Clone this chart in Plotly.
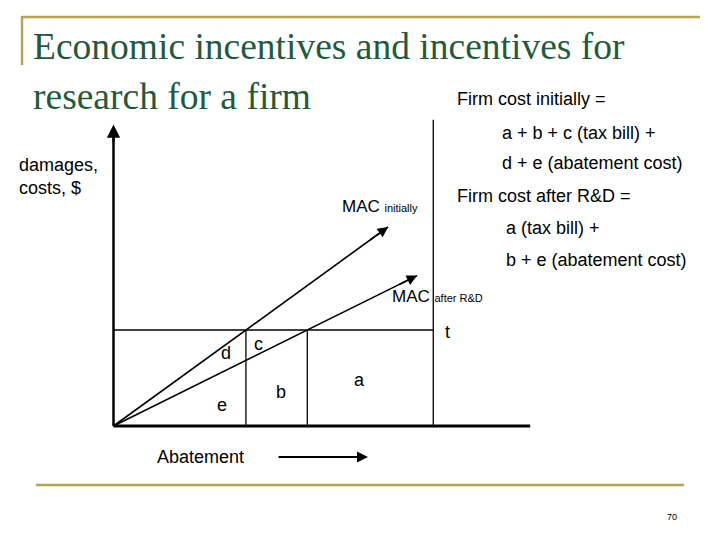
import plotly.graph_objects as go

# ---- diagram data (abstract units) ----
TAX = 5.0                 # tax level t
Q_INITIAL = 4.1           # abatement where MAC initially = t
Q_AFTER = 6.0             # abatement where MAC after R&D = t
Q_FULL = 9.9              # full abatement line
MAC_INIT_END = 8.5        # extent of MAC initially curve (abatement)
MAC_AFTER_END = 9.4       # extent of MAC after R&D curve (abatement)
AXIS_X_END = 12.9
AXIS_Y_END = 15.7
Q_FULL_TOP = 15.95

slope_init = TAX / Q_INITIAL
slope_after = TAX / Q_AFTER

W, H = 720, 540
X0, Y0 = 113.5, 426.0      # pixel position of the origin
XU, YU = 32.3, 19.2        # pixels per unit

def px(x):
    return x / W

def py(y):
    return 1 - y / H

fig = go.Figure()

BLK = "#000000"

def seg(xs, ys, w):
    fig.add_trace(go.Scatter(x=xs, y=ys, mode="lines",
                             line=dict(color=BLK, width=w),
                             hoverinfo="skip", showlegend=False))

# axes
seg([0, 0], [0, AXIS_Y_END - 0.3], 2.5)
seg([0, AXIS_X_END], [0, 0], 2.8)
# tax line and vertical lines
seg([0, Q_FULL], [TAX, TAX], 1.3)
seg([Q_INITIAL, Q_INITIAL], [0, TAX], 1.3)
seg([Q_AFTER, Q_AFTER], [0, TAX], 1.3)
seg([Q_FULL, Q_FULL], [0, Q_FULL_TOP], 1.3)
# MAC curves
seg([0, MAC_INIT_END], [0, slope_init * MAC_INIT_END], 1.6)
seg([0, MAC_AFTER_END], [0, slope_after * MAC_AFTER_END], 1.6)

ann = []
# arrow heads
ann.append(dict(x=0, y=AXIS_Y_END, ax=0, ay=AXIS_Y_END - 1.0, xref="x", yref="y",
                axref="x", ayref="y", text="", showarrow=True, arrowhead=2,
                arrowsize=1.2, arrowwidth=2.2, arrowcolor=BLK))
ann.append(dict(x=MAC_INIT_END, y=slope_init * MAC_INIT_END,
                ax=MAC_INIT_END - 0.6, ay=slope_init * (MAC_INIT_END - 0.6),
                xref="x", yref="y", axref="x", ayref="y", text="", showarrow=True,
                arrowhead=2, arrowsize=1.3, arrowwidth=1.6, arrowcolor=BLK))
ann.append(dict(x=MAC_AFTER_END, y=slope_after * MAC_AFTER_END,
                ax=MAC_AFTER_END - 0.6, ay=slope_after * (MAC_AFTER_END - 0.6),
                xref="x", yref="y", axref="x", ayref="y", text="", showarrow=True,
                arrowhead=2, arrowsize=1.3, arrowwidth=1.6, arrowcolor=BLK))
# Abatement arrow
ann.append(dict(x=px(368), y=py(457), ax=-91, ay=0, xref="paper", yref="paper",
                text="", showarrow=True, arrowhead=2, arrowsize=1.1,
                arrowwidth=2, arrowcolor=BLK))

SANS = "Liberation Sans, Arial, sans-serif"
SERIF = "Liberation Serif, Times New Roman, serif"
GREEN = "#1F5B3B"

def txt(x, y, s, size=18, xanchor="left", font=SANS, color=BLK):
    ann.append(dict(x=px(x), y=py(y), xref="paper", yref="paper", text=s,
                    showarrow=False, xanchor=xanchor, yanchor="middle",
                    font=dict(family=font, size=size, color=color), align="left"))

# title
txt(31, 47, "Economic incentives and incentives for", 37.5, font=SERIF, color=GREEN)
txt(31, 96, "research for a firm", 37.5, font=SERIF, color=GREEN)

# side notes
txt(455, 99, "Firm cost initially =", 18)
txt(500, 133, "a + b + c (tax bill) +", 18)
txt(500, 163, "d + e (abatement cost)", 18)
txt(455, 196, "Firm cost after R&D =", 18)
txt(504, 228, "a (tax bill) +", 18)
txt(504, 260, "b + e (abatement cost)", 18)

ann.append(dict(x=px(17), y=py(176), xref="paper", yref="paper",
                text="damages,<br>costs, $", showarrow=False, xanchor="left",
                yanchor="middle", align="left",
                font=dict(family=SANS, size=18, color=BLK)))

txt(340, 207, "MAC <span style='font-size:11px'>initially</span>", 17)
txt(390, 296, "MAC <span style='font-size:11px'>after R&D</span>", 17)

txt(447, 332, "t", 18, xanchor="center")
txt(226, 353, "d", 18, xanchor="center")
txt(258, 344, "c", 18, xanchor="center")
txt(222, 405, "e", 18, xanchor="center")
txt(281, 392, "b", 18, xanchor="center")
txt(359, 380, "a", 18, xanchor="center")
txt(200, 457, "Abatement", 18, xanchor="center")
txt(672, 517, "70", 9, xanchor="center")

OLIVE = "#B5A550"
shapes = [
    dict(type="line", xref="paper", yref="paper", x0=px(22), x1=px(700),
         y0=py(17), y1=py(17), line=dict(color=OLIVE, width=2.5)),
    dict(type="line", xref="paper", yref="paper", x0=px(22), x1=px(22),
         y0=py(16), y1=py(65), line=dict(color=OLIVE, width=2.5)),
    dict(type="line", xref="paper", yref="paper", x0=px(36), x1=px(684),
         y0=py(485), y1=py(485), line=dict(color=OLIVE, width=2.5)),
]

fig.update_layout(
    width=W, height=H, margin=dict(l=0, r=0, t=0, b=0),
    paper_bgcolor="white", plot_bgcolor="white",
    xaxis=dict(range=[-X0 / XU, (W - X0) / XU], visible=False, fixedrange=True),
    yaxis=dict(range=[(Y0 - H) / YU, Y0 / YU], visible=False, fixedrange=True),
    annotations=ann, shapes=shapes, showlegend=False,
)

fig.write_html("out.html", config={"displayModeBar": False},
               post_script="document.body.style.margin='0';")
